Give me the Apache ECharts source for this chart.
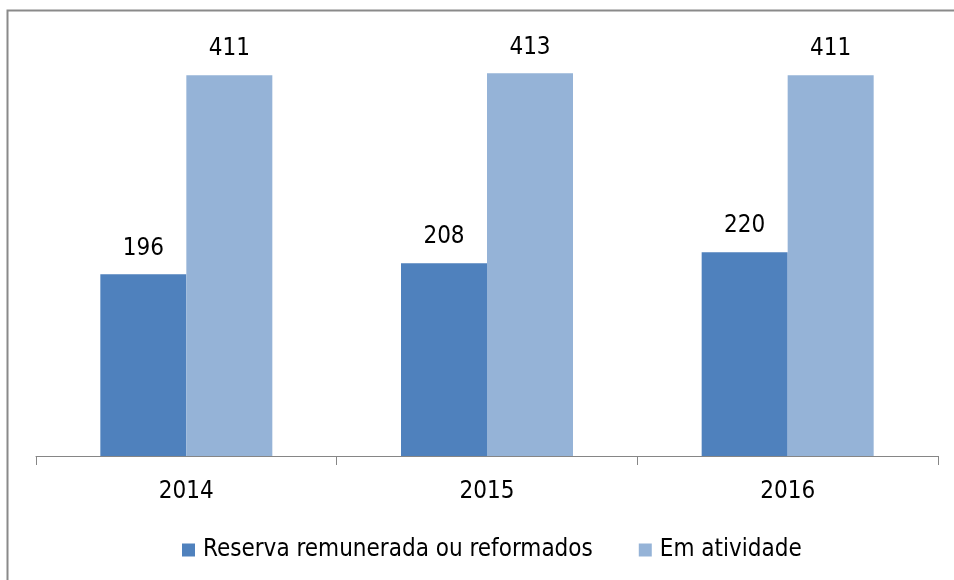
<!DOCTYPE html>
<html><head><meta charset="utf-8">
<script src="https://cdn.jsdelivr.net/npm/echarts@6/dist/echarts.min.js"></script>
<style>html,body{margin:0;padding:0;background:#fff}#c{width:954px;height:580px}</style>
</head><body><div id="c"></div>
<script>
const categories = ['2014', '2015', '2016'];
const seriesNames = ['Reserva remunerada ou reformados', 'Em atividade'];
const reserva = [196, 208, 220];
const atividade = [411, 413, 411];

const FONT = '"Liberation Sans Narrow", "DejaVu Sans Condensed", sans-serif';
const FS = 24;
const chart = echarts.init(document.getElementById('c'), null, {renderer: 'canvas'});
const labelStyle = {show: true, position: 'top', distance: 14, color: '#000', fontSize: FS, fontFamily: FONT};
chart.setOption({
  animation: false,
  backgroundColor: '#fff',
  graphic: [{type: 'rect', shape: {x: 7.5, y: 10.5, width: 1000, height: 1000}, style: {fill: 'none', stroke: '#8a8a8a', lineWidth: 2}, silent: true}],
  grid: {left: 36, right: 16, top: 39, bottom: 124},
  legend: {
    left: 182, top: 538, padding: 0, itemWidth: 13, itemHeight: 13, itemGap: 46,
    icon: 'rect',
    textStyle: {fontSize: FS, fontFamily: FONT, color: '#000', padding: [0, 0, 0, 3]},
    data: seriesNames
  },
  xAxis: {
    type: 'category', data: categories,
    axisLine: {lineStyle: {color: '#868686', width: 1}},
    axisTick: {show: true, length: 9, lineStyle: {color: '#868686'}},
    axisLabel: {color: '#000', fontSize: FS, fontFamily: FONT, margin: 24}
  },
  yAxis: {type: 'value', min: 0, max: 450, show: false, splitLine: {show: false}},
  series: [
    {name: seriesNames[0], type: 'bar', data: reserva, barWidth: 86, barGap: '0%', itemStyle: {color: '#4F81BD'}, label: labelStyle},
    {name: seriesNames[1], type: 'bar', data: atividade, barWidth: 86, barGap: '0%', itemStyle: {color: '#95B3D7'}, label: labelStyle}
  ]
});
</script></body></html>
